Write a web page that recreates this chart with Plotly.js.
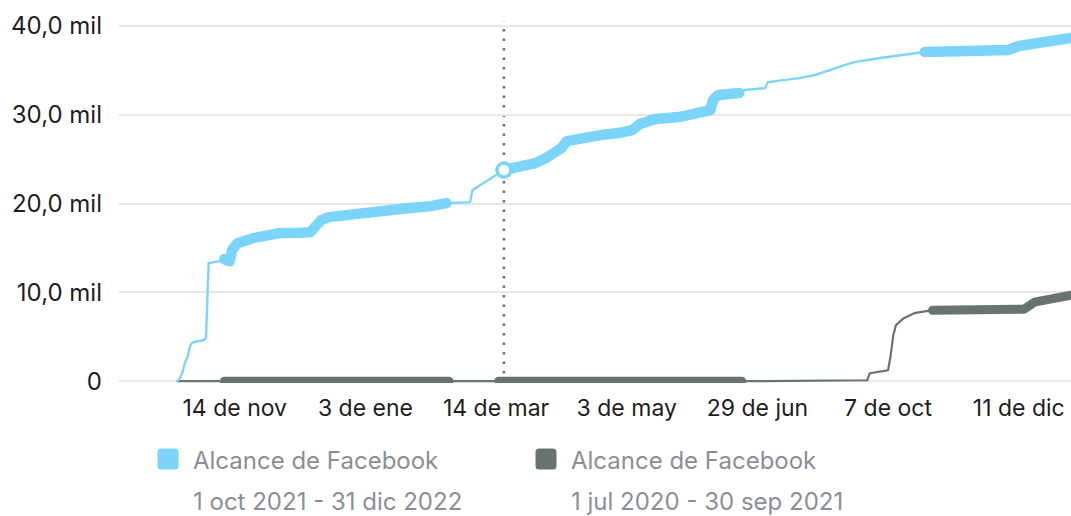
<!DOCTYPE html>
<html>
<head>
<meta charset="utf-8">
<script src="https://cdn.plot.ly/plotly-3.0.1.min.js"></script>
<style>
  html, body { margin: 0; padding: 0; background: #ffffff; }
  #chart { width: 1071px; height: 516px; }
</style>
</head>
<body>
<div id="chart"></div>
<script>
// ---- Data ----
// x = day position along the comparison axis, y = cumulative reach
const tickPositions = [50, 100, 150, 200, 250, 300, 350];
const tickLabels = ["14 de nov", "3 de ene", "14 de mar", "3 de may", "29 de jun", "7 de oct", "11 de dic"];

const yTickValues = [0, 10000, 20000, 30000, 40000];
const yTickLabels = ["0", "10,0 mil", "20,0 mil", "30,0 mil", "40,0 mil"];

// Current period: 1 oct 2021 - 31 dic 2022
const currentName = "Alcance de Facebook";
const currentRange = "1 oct 2021 - 31 dic 2022";
const currentX = [28, 29, 30, 31, 32, 33, 34, 38, 39, 40, 44, 46, 48, 49, 51, 57, 61, 67, 75, 79, 81, 83, 86, 94, 105, 116, 125, 131,
  140, 141, 144, 149, 153, 159, 163, 165, 169, 172, 175, 177, 182, 190, 197, 202, 205, 211, 220, 228, 232, 233, 235, 243,
  245, 253, 254, 266, 272, 281, 287, 297, 306, 314, 327, 343, 346, 350, 356, 362, 370];
const currentY = [0, 340, 1010, 2140, 2820, 4060, 4390, 4620, 4850, 13300, 13520, 13750, 13500, 14760, 15550, 16110, 16450, 16680, 16730, 16790, 17470, 18140, 18480, 18820, 19040, 19490, 19720, 20060,
  20170, 21520, 22090, 22990, 23780, 24110, 24230, 24560, 25130, 25690, 26250, 27040, 27380, 27720, 27950, 28280, 28960, 29520, 29750, 30090, 30540, 31660, 32230, 32450,
  32790, 33010, 33690, 34140, 34480, 35380, 35940, 36400, 36730, 37070, 37070, 37180, 37300, 37750, 38090, 38420, 38650];
// 1 = day with recorded data point (drawn dense), 0 = gap
const currentDense = [0, 0, 0, 0, 0, 0, 0, 0, 0, 0, 0, 1, 1, 1, 1, 1, 1, 1, 1, 1, 1, 1, 1, 1, 1, 1, 1, 1,
  0, 0, 0, 0, 1, 1, 1, 1, 1, 1, 1, 1, 1, 1, 1, 1, 1, 1, 1, 1, 1, 1, 1, 1,
  0, 0, 0, 0, 0, 0, 0, 0, 0, 1, 1, 1, 1, 1, 1, 1, 1];

// Previous period: 1 jul 2020 - 30 sep 2021
const previousName = "Alcance de Facebook";
const previousRange = "1 jul 2020 - 30 sep 2021";
const previousX = [28, 46, 132, 141, 151, 244, 292, 293, 298, 300, 301, 302, 303, 306, 310, 314, 317, 335, 352, 356, 362, 370];
const previousY = [0, 0, 0, 0, 0, 0, 110, 900, 1130, 1240, 2930, 5180, 6310, 7100, 7660, 7890, 8000, 8000, 8110, 8900, 9350, 9690];
const previousDense = [0, 1, 1, 0, 1, 1, 0, 0, 0, 0, 0, 0, 0, 0, 0, 0, 1, 1, 1, 1, 1, 1];

// Hovered point (index into the current series)
const hoverIndex = 32;

// ---- Styling ----
const blue = "#7bd5fb";
const gray = "#687372";
const font = "Inter, 'Noto Sans', sans-serif";

function denseY(ys, flags) {
  return ys.map((v, i) => flags[i] ? v : null);
}

const traces = [
  { x: previousX, y: previousY, mode: "lines", line: { color: gray, width: 2.2 }, hoverinfo: "skip", showlegend: false, cliponaxis: false },
  { x: previousX, y: denseY(previousY, previousDense), mode: "lines", line: { color: gray, width: 9 }, connectgaps: false, hoverinfo: "skip", showlegend: false, cliponaxis: false },
  { x: currentX, y: currentY, mode: "lines", line: { color: blue, width: 2.4 }, hoverinfo: "skip", showlegend: false, cliponaxis: false },
  { x: currentX, y: denseY(currentY, currentDense), mode: "lines", line: { color: blue, width: 10.5 }, connectgaps: false, hoverinfo: "skip", showlegend: false, cliponaxis: false },
  { x: [currentX[hoverIndex]], y: [currentY[hoverIndex]], mode: "markers",
    marker: { size: 14, color: "#ffffff", line: { color: blue, width: 3.5 } }, hoverinfo: "skip", showlegend: false, cliponaxis: false }
];

const W = 1071, H = 516;
const plotLeft = 119, plotRight = 1071, plotTop = 20, plotBottom = 383;
const px = (p) => (p - plotLeft) / (plotRight - plotLeft);
const py = (p) => (plotBottom - p) / (plotBottom - plotTop);

function roundedSquare(cx, cy, size, r) {
  const x0 = cx - size / 2, x1 = cx + size / 2, y0 = cy - size / 2, y1 = cy + size / 2;
  const P = (x, y) => px(x).toFixed(5) + "," + py(y).toFixed(5);
  return "M" + P(x0 + r, y0) + " L" + P(x1 - r, y0) + " Q" + P(x1, y0) + " " + P(x1, y0 + r) +
    " L" + P(x1, y1 - r) + " Q" + P(x1, y1) + " " + P(x1 - r, y1) +
    " L" + P(x0 + r, y1) + " Q" + P(x0, y1) + " " + P(x0, y1 - r) +
    " L" + P(x0, y0 + r) + " Q" + P(x0, y0) + " " + P(x0 + r, y0) + " Z";
}

const legendTextFont = { family: font, size: 24, color: "#8a8f95" };
const tickFont = { family: font, size: 23, color: "#1c1e21" };

const layout = {
  width: W, height: H,
  margin: { l: plotLeft, r: W - plotRight, t: plotTop, b: H - plotBottom, pad: 0 },
  paper_bgcolor: "#ffffff", plot_bgcolor: "#ffffff",
  showlegend: false,
  xaxis: {
    range: [5.7, 370], showgrid: false, zeroline: false, showline: false,
    tickmode: "array", tickvals: tickPositions, ticktext: tickLabels,
    ticks: "", ticklabelstandoff: 9,
    tickfont: tickFont, fixedrange: true
  },
  yaxis: {
    range: [-200, 40680], showgrid: true, gridcolor: "#e7e7e7", gridwidth: 2,
    zeroline: false, showline: false,
    tickmode: "array", tickvals: yTickValues, ticktext: yTickLabels,
    ticks: "", ticklabelstandoff: 16,
    tickfont: { family: font, size: 24, color: "#1c1e21" }, fixedrange: true
  },
  shapes: [
    { type: "line", xref: "x", yref: "paper", x0: currentX[hoverIndex], x1: currentX[hoverIndex], y0: 0, y1: 0.995,
      line: { color: "#6f6f6f", width: 2.5, dash: "2.5px,7px" }, layer: "below" },
    { type: "path", xref: "paper", yref: "paper", path: roundedSquare(168, 459, 21, 3.5),
      fillcolor: blue, line: { width: 0 } },
    { type: "path", xref: "paper", yref: "paper", path: roundedSquare(546, 459, 21, 3.5),
      fillcolor: gray, line: { width: 0 } }
  ],
  annotations: [
    { xref: "paper", yref: "paper", x: px(191), y: py(460), xanchor: "left", yanchor: "middle", showarrow: false, text: currentName, font: legendTextFont },
    { xref: "paper", yref: "paper", x: px(191), y: py(501), xanchor: "left", yanchor: "middle", showarrow: false, text: currentRange, font: legendTextFont },
    { xref: "paper", yref: "paper", x: px(569), y: py(460), xanchor: "left", yanchor: "middle", showarrow: false, text: previousName, font: legendTextFont },
    { xref: "paper", yref: "paper", x: px(569), y: py(501), xanchor: "left", yanchor: "middle", showarrow: false, text: previousRange, font: legendTextFont }
  ]
};

Plotly.newPlot("chart", traces, layout, { displayModeBar: false, staticPlot: true }).then(function (gd) {
  gd.querySelectorAll(".scatterlayer .js-line").forEach(function (p) {
    p.style.strokeLinecap = "round";
    p.style.strokeLinejoin = "round";
  });
});
</script>
</body>
</html>
